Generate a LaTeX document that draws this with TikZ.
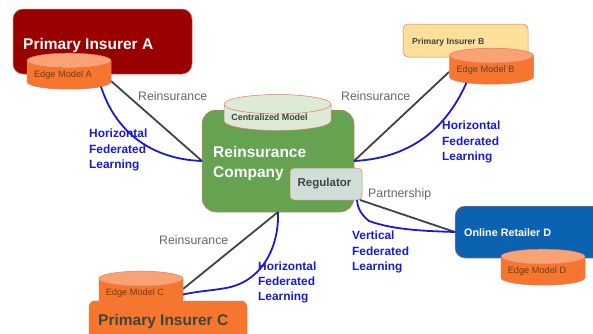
\documentclass[tikz,border=0pt]{standalone}
\usepackage{fontspec}
\setmainfont{Liberation Sans}
\usetikzlibrary{shapes.geometric}

\definecolor{redbox}{HTML}{990000}
\definecolor{sandbox}{HTML}{FFDF99}
\definecolor{greenbox}{HTML}{65A350}
\definecolor{bluebox}{HTML}{0B62B0}
\definecolor{orangebox}{HTML}{F6762E}
\definecolor{orangetop}{HTML}{F9A273}
\definecolor{palegreen}{HTML}{DDEAD6}
\definecolor{palegray}{HTML}{CFDED6}
\definecolor{rimline}{HTML}{E0786A}
\definecolor{inkbrown}{HTML}{6B3E22}
\definecolor{inkgray}{HTML}{666666}
\definecolor{inkdark}{HTML}{3A463F}
\definecolor{fedblue}{HTML}{1A1AD0}

\begin{document}
\begin{tikzpicture}[x=1pt,y=-1pt,font=\fontsize{12.3}{15.3}\selectfont,
      box/.style={rectangle,rounded corners=10pt,draw=rimline,line width=.5pt,
        outer sep=0pt,inner sep=0pt},
      model/.style={cylinder,shape border rotate=90,shape aspect=.21,draw=rimline,
        line width=.5pt,cylinder uses custom fill,cylinder body fill=orangebox,
        cylinder end fill=orangetop,minimum width=84pt,minimum height=36pt,
        outer sep=0pt,inner sep=0pt,text=inkbrown,
        font=\fontsize{9.2}{11}\selectfont},
      deal/.style={draw=inkdark,line width=1.8pt},
      fed/.style={draw=fedblue,line width=1.8pt},
      tag/.style={text=inkgray,inner sep=0pt},
      fedtag/.style={text=fedblue,font=\fontsize{11.9}{15.3}\selectfont\bfseries,
        align=left,inner sep=0pt}]
      \useasboundingbox (0,0) rectangle (593,333);

      \node[box,fill=redbox,minimum width=179pt,minimum height=65pt] (A) at (102.5,41.5) {};
      \node[box,fill=sandbox,rounded corners=5pt,minimum width=125pt,minimum height=33pt] (B) at (465.5,40.5) {};
      \node[box,fill=greenbox,rounded corners=14pt,minimum width=152pt,minimum height=102pt] (company) at (278,161) {};
      \node[box,fill=bluebox,minimum width=150pt,minimum height=52pt] (D) at (530,232) {};
      \node[box,fill=orangebox,rounded corners=6pt,minimum width=158pt,minimum height=46pt] (C) at (168,324) {};

      \coordinate (bendC) at (226,288);
      \coordinate (bendD) at (369,221);

      \path
      (company.west) edge[deal] (111,81)
      (company.east) edge[deal] (449,72)
      (company.south) edge[deal] (183,289)
      ;

      \node[model] (edgeA) at (69,75) {Edge Model A\kern12pt};
      \node[model] (edgeB) at (491.5,70) {Edge Model B\kern12pt};
      \node[model] (edgeC) at (141,293) {Edge Model C\kern12pt};
      \node[model] (edgeD) at (543,271) {Edge Model D\kern12pt};
      \node[model,cylinder body fill=palegreen,cylinder end fill=palegreen,minimum width=107pt,
        text=inkdark,font=\fontsize{8.9}{11}\selectfont\bfseries] (central) at (277.5,117.5) {Centralized Model\kern16pt};
      \node[box,fill=palegray,rounded corners=4pt,minimum width=72pt,minimum height=32pt,
        text=inkdark,font=\fontsize{11.5}{13}\selectfont\bfseries] (regulator) at (326,184) {\raisebox{-2pt}{Regulator}\kern3pt};

      \path
      ([xshift=-2pt]regulator.south east) edge[deal] (D.west)
      (company.west) edge[fed,out=178,in=-72] (edgeA.-20)
      (company.east) edge[fed,out=3,in=-114] (edgeB.207)
      ;
      \draw[fed] (company.south) to[out=-88,in=10] (bendC) to[out=190,in=12] (edgeC.-2);
      \draw[fed] ([xshift=-5pt]regulator.south east) to[out=-85,in=140] (bendD) to[out=-20,in=178,looseness=.8] (D.west);

      \node[text=white,font=\fontsize{15.5}{19}\selectfont\bfseries,inner sep=0pt,anchor=west] (titleA) at (23,45) {Primary Insurer A};
      \node[text=inkdark,font=\fontsize{8.6}{11}\selectfont\bfseries,inner sep=0pt,anchor=west] (titleB) at (412,42) {Primary Insurer B};
      \node[text=inkdark,font=\fontsize{15.5}{19}\selectfont\bfseries,inner sep=0pt,anchor=west] (titleC) at (98,321) {Primary Insurer C};
      \node[text=white,font=\fontsize{10.8}{13}\selectfont\bfseries,inner sep=0pt,anchor=west] (titleD) at (464,233) {Online Retailer D};
      \node[text=white,font=\fontsize{15.5}{20}\selectfont\bfseries,inner sep=0pt,align=left,anchor=west] (titleR) at (213,163) {Reinsurance\\Company};

      \node[tag,anchor=west] (dealA) at (138,96) {Reinsurance};
      \node[tag,anchor=west] (dealB) at (341,96) {Reinsurance};
      \node[tag,anchor=west] (dealC) at (159,240) {Reinsurance};
      \node[tag,anchor=west] (dealD) at (368,194) {Partnership};

      \node[fedtag,anchor=west] (fedA) at (89,150) {Horizontal\\Federated\\Learning};
      \node[fedtag,anchor=west] (fedB) at (442,142) {Horizontal\\Federated\\Learning};
      \node[fedtag,anchor=west] (fedC) at (258,282.5) {Horizontal\\Federated\\Learning};
      \node[fedtag,anchor=west] (fedD) at (352,252) {Vertical\\Federated\\Learning};
      \end{tikzpicture}
\end{document}
